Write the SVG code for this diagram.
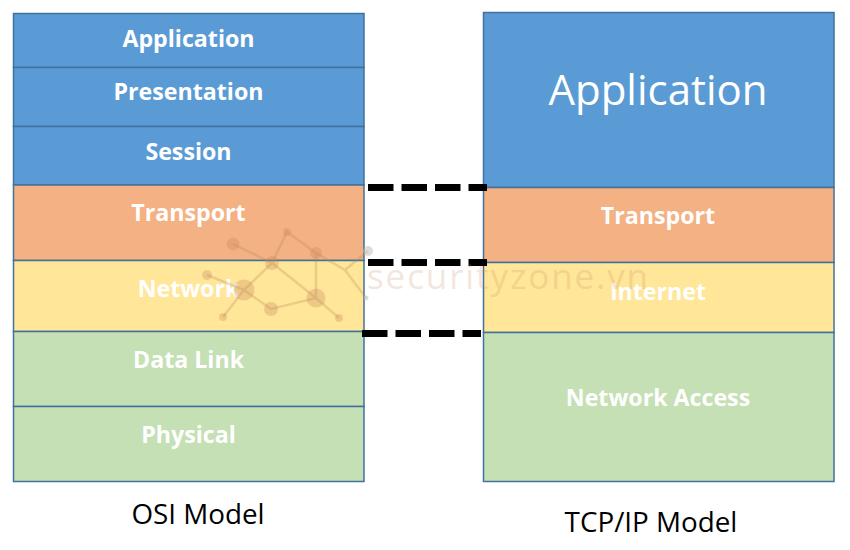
<svg xmlns="http://www.w3.org/2000/svg" width="850" height="550" viewBox="0 0 850 550">
<style>
.box{stroke:#41719c;stroke-width:1.5}
.blue{fill:#5b9bd5}.orange{fill:#f4b183}.yellow{fill:#ffe699}.green{fill:#c5e0b4}
.lbl{font-family:"Open Sans","Noto Sans",sans-serif;font-weight:700;font-size:23.200px;fill:#fff;text-anchor:middle}
.cap{font-family:"Open Sans","Noto Sans",sans-serif;font-size:27.800px;fill:#000;text-anchor:middle}
.wm{fill:#c8845a;opacity:.3}
.wl{stroke:#b5895a;stroke-width:2.500;opacity:.28;fill:none}
</style>
<rect width="850" height="550" fill="#fff"/>
<g id="osi-application"><rect class="box blue" x="13.500" y="13.500" width="350.500" height="54"/><text class="lbl" x="188.500" y="47">Application</text></g>
<g id="osi-presentation"><rect class="box blue" x="13.500" y="67.500" width="350.500" height="59"/><text class="lbl" x="188.500" y="100">Presentation</text></g>
<g id="osi-session"><rect class="box blue" x="13.500" y="126.500" width="350.500" height="58.500"/><text class="lbl" x="188.500" y="160">Session</text></g>
<g id="osi-transport"><rect class="box orange" x="13.500" y="185" width="350.500" height="75.500"/><text class="lbl" x="188.500" y="221">Transport</text></g>
<g id="osi-network"><rect class="box yellow" x="13.500" y="260.500" width="350.500" height="71"/><text class="lbl" x="188.500" y="297">Network</text></g>
<g id="osi-datalink"><rect class="box green" x="13.500" y="331.500" width="350.500" height="75"/><text class="lbl" x="188.500" y="368">Data Link</text></g>
<g id="osi-physical"><rect class="box green" x="13.500" y="406.500" width="350.500" height="75"/><text class="lbl" x="188.500" y="443">Physical</text></g>
<g id="tcp-application"><rect class="box blue" x="483.500" y="12.500" width="350.500" height="175"/><text class="lbl" style="font-weight:400;font-size:42px" x="658" y="105">Application</text></g>
<g id="tcp-transport"><rect class="box orange" x="483.500" y="187.500" width="350.500" height="75"/><text class="lbl" x="658" y="224">Transport</text></g>
<g id="tcp-internet"><rect class="box yellow" x="483.500" y="262.500" width="350.500" height="70"/><text class="lbl" x="658" y="299.500">Internet</text></g>
<g id="tcp-network-access"><rect class="box green" x="483.500" y="332.500" width="350.500" height="149"/><text class="lbl" x="658" y="406">Network Access</text></g>
<g id="connectors" stroke="#000" stroke-width="7" stroke-dasharray="25.500 8" fill="none">
<line x1="368" y1="187.500" x2="487" y2="187.500"/>
<line x1="368" y1="262.500" x2="487" y2="262.500"/>
<line x1="362" y1="333.500" x2="481" y2="333.500"/>
</g>
<g id="osi-caption"><text class="cap" x="198" y="524">OSI Model</text></g>
<g id="tcp-caption"><text class="cap" x="651" y="532">TCP/IP Model</text></g>
<g id="watermark">
<path class="wl" d="M233 244L272 263L287 232L316 253L345 270L368 251M345 270L366 298M316 253V298L272 263L244 290L207 275M244 290L271 309L316 298L339 318M244 290L223 317"/>
<circle class="wm" cx="233" cy="244" r="6.500"/>
<circle class="wm" cx="287" cy="232" r="4"/>
<circle class="wm" cx="316" cy="253" r="6"/>
<circle class="wm" cx="272" cy="263" r="7"/>
<circle cx="368" cy="251" r="5" fill="#bbb" opacity=".5"/>
<circle class="wm" cx="207" cy="275" r="5"/>
<circle class="wm" cx="244" cy="290" r="10.500"/>
<circle class="wm" cx="316" cy="298" r="9.500"/>
<circle class="wm" cx="271" cy="309" r="7"/>
<circle class="wm" cx="223" cy="317" r="4"/>
<circle class="wm" cx="339" cy="318" r="4"/>
<circle cx="366" cy="298" r="2.500" fill="#bbb" opacity=".5"/>
<text x="367" y="289" font-family="'Open Sans','Noto Sans',sans-serif" font-size="35" letter-spacing="1.900" fill="#c8845a" opacity=".2">securityzone.vn</text>
</g>
</svg>
